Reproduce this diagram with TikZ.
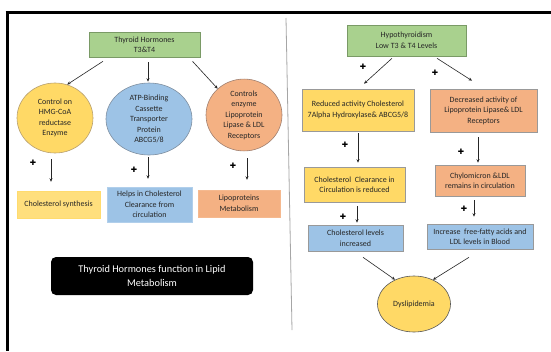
\documentclass[tikz,border=0pt]{standalone}
\usepackage{fontspec}
\setmainfont{Carlito}
\newfontfamily\plusfont{DejaVu Sans}
\usetikzlibrary{shapes.geometric,arrows.meta}
\definecolor{gfill}{HTML}{A9D18E}
\definecolor{gdraw}{HTML}{7A9A66}
\definecolor{yfill}{HTML}{FFD966}
\definecolor{ydraw}{HTML}{B8A070}
\definecolor{bfill}{HTML}{9DC3E6}
\definecolor{bdraw}{HTML}{7F8FA0}
\definecolor{sfill}{HTML}{F4B183}
\definecolor{sdraw}{HTML}{A08070}
\definecolor{txt}{HTML}{262626}
\begin{document}
\begin{tikzpicture}[x=1pt,y=-1pt,
  every node/.style={inner sep=1pt, text=txt, font=\fontsize{8}{10.5}\selectfont, align=center},
  rbox/.style={rectangle, draw=#1, line width=0.6pt, minimum width=0pt},
  ell/.style={ellipse, draw=#1, line width=0.6pt},
  arr/.style={-{Stealth[length=3.5pt,width=3pt]}, line width=0.6pt, black!85},
  plus/.style={font=\plusfont\fontsize{7.5}{7.5}\selectfont, text=black, inner sep=0pt}]
\useasboundingbox (0,0) rectangle (551,351);
\fill[white] (0,0) rectangle (551,351);
% frame
\draw[line width=3.2pt] (5.5,12.5) -- (551,12.5);
\draw[line width=2.4pt] (7.5,11) -- (7.5,351);
\draw[gray!70, line width=0.8pt] (286,18) -- (292,330);

% ---------- left side ----------
\node[rbox=gdraw, fill=gfill, minimum width=111pt, minimum height=25pt] (g1) at (144.5,44.5) {Thyroid Hormones\\T3\&T4};
\node[ell=ydraw, fill=yfill, minimum width=76pt, minimum height=70pt] (e1) at (55,118) {Control on\\HMG-CoA\\reductase\\Enzyme};
\node[ell=bdraw, fill=bfill, minimum width=86pt, minimum height=72pt] (e2) at (149,119) {ATP-Binding\\Cassette\\Transporter\\Protein\\ABCG5/8};
\node[ell=sdraw, fill=sfill, minimum width=76pt, minimum height=70pt] (e3) at (244,115) {Controls\\enzyme\\Lipoprotein\\Lipase \& LDL\\Receptors};
\node[rectangle, fill=yfill!85, draw=yfill!95!white, minimum width=83pt, minimum height=27pt] (b1) at (58.5,204.5) {Cholesterol synthesis};
\node[rectangle, fill=bfill, draw=bfill!80!white, minimum width=85pt, minimum height=35pt] (b2) at (149.5,204.5) {Helps in Cholesterol\\Clearance from\\circulation};
\node[rectangle, fill=sfill, draw=sfill!90!white, minimum width=82pt, minimum height=27pt] (b3) at (239,203.5) {Lipoproteins\\Metabolism};
\node[rectangle, rounded corners=5pt, fill=black, minimum width=202pt, minimum height=38pt, text=white, font=\fontsize{10.3}{14}\selectfont] (tb) at (152,276) {Thyroid Hormones function in Lipid\\Metabolism};

\draw[arr] ([xshift=-41.5pt,yshift=-4pt]g1.south) -- (e1.70);
\draw[arr] ([xshift=3.5pt,yshift=-5pt]g1.south) -- ([xshift=-1pt,yshift=1pt]e2.north);
\draw[arr] ([xshift=48pt,yshift=-4pt]g1.south) -- (e3.135);
\draw[arr] ([xshift=-4pt,yshift=-6pt]e1.south) -- ([xshift=-7.5pt,yshift=9pt]b1.north);
\draw[arr] ([xshift=-1pt,yshift=-2pt]e2.south) -- ([xshift=-1.5pt,yshift=8pt]b2.north);
\draw[arr] ([xshift=3pt,yshift=-7pt]e3.south) -- ([xshift=8pt,yshift=10pt]b3.north);

\node[plus] (p1) at (33,163) {\symbol{"271A}};
\node[plus] (p2) at (134,170) {\symbol{"271A}};
\node[plus] (p3) at (233,166) {\symbol{"271A}};

% ---------- right side ----------
\node[rbox=gdraw, fill=gfill, minimum width=119pt, minimum height=31pt] (g2) at (406.5,40.5) {Hypothyroidism\\Low T3 \& T4 Levels};
\node[rbox=gray!80, fill=yfill, minimum width=112pt, minimum height=42pt] (r1) at (358,110) {Reduced activity Cholesterol\\7Alpha Hydroxylase\& ABCG5/8};
\node[rbox=gray!80, fill=sfill, minimum width=107pt, minimum height=43pt] (r2) at (483.5,110.5) {Decreased activity of\\Lipoprotein Lipase\& LDL\\Receptors};
\node[rbox=gray!80, fill=yfill, minimum width=101pt, minimum height=35pt] (r3) at (354.5,184.5) {Cholesterol\ \ Clearance in\\Circulation is reduced};
\node[rbox=gray!80, fill=sfill, minimum width=90pt, minimum height=31pt] (r4) at (480,180.5) {Chylomicron \&LDL\\remains in circulation};
\node[rbox=gray!80, fill=bfill, minimum width=95pt, minimum height=26pt] (r5) at (355.5,238) {Cholesterol levels\\increased};
\node[rbox=gray!80, fill=bfill, minimum width=106pt, minimum height=25pt] (r6) at (480,236.5) {Increase\ \ free-fatty acids and\\LDL levels in Blood};
\node[ell=gray!70!black, fill=yfill, minimum width=73pt, minimum height=56pt] (dys) at (414,304) {Dyslipidemia};

\draw[arr] ([xshift=-14.5pt,yshift=-2pt]g2.south) -- ([xshift=6pt,yshift=5pt]r1.north);
\draw[arr] ([xshift=30.5pt,yshift=-2pt]g2.south) -- ([xshift=-11.5pt,yshift=8pt]r2.north);
\draw[arr] ([yshift=-2pt]r1.south) -- ([xshift=3.5pt,yshift=4pt]r3.north);
\draw[arr] ([xshift=-5.5pt,yshift=-5pt]r2.south) -- ([xshift=-2pt,yshift=2pt]r4.north);
\draw[arr] ([xshift=2.5pt,yshift=-4pt]r3.south) -- ([xshift=1.5pt,yshift=2pt]r5.north);
\draw[arr] ([xshift=-6pt,yshift=-4pt]r4.south) -- ([xshift=-6pt,yshift=7pt]r6.north);
\draw[arr] ([xshift=7.5pt,yshift=-6pt]r5.south) -- (dys.128);
\draw[arr] ([xshift=-11pt,yshift=-8pt]r6.south) -- (dys.52);

\node[plus] (p4) at (363,67) {\symbol{"271A}};
\node[plus] (p5) at (435,73) {\symbol{"271A}};
\node[plus] (p6) at (345,145) {\symbol{"271A}};
\node[plus] (p7) at (461,152) {\symbol{"271A}};
\node[plus] (p8) at (343,217) {\symbol{"271A}};
\node[plus] (p9) at (464,209) {\symbol{"271A}};
\end{tikzpicture}
\end{document}
